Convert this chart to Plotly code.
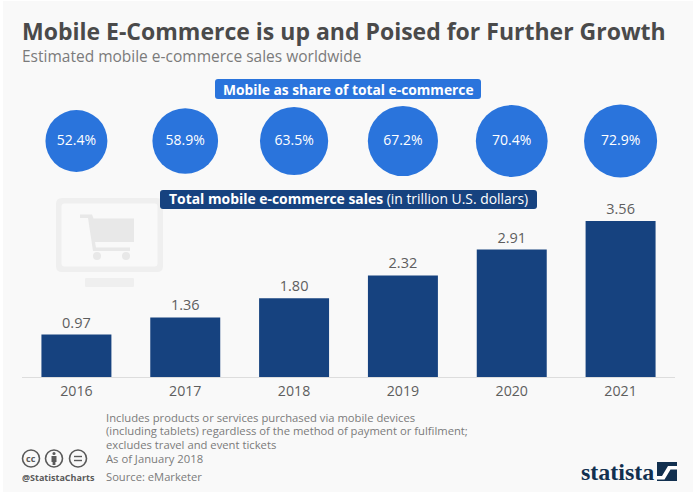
import plotly.graph_objects as go

W, H = 700, 502
years = ["2016", "2017", "2018", "2019", "2020", "2021"]
sales = [0.97, 1.36, 1.80, 2.32, 2.91, 3.56]
sales_labels = ["0.97", "1.36", "1.80", "2.32", "2.91", "3.56"]
share = [52.4, 58.9, 63.5, 67.2, 70.4, 72.9]
share_labels = ["52.4%", "58.9%", "63.5%", "67.2%", "70.4%", "72.9%"]
share_row = [0, 0, 0, 0, 0, 0]

title = "Mobile E-Commerce is up and Poised for Further Growth"
subtitle = "Estimated mobile e-commerce sales worldwide"
note_lines = [
    "Includes products or services purchased via mobile devices",
    "(including tablets) regardless of the method of payment or fulfilment;",
    "excludes travel and event tickets",
    "As of January 2018",
]
note_rows = [417.3, 430.8, 444.9, 458.3]
source = "Source: eMarketer"

FONT = "Open Sans"
DARK = "#16427f"
BLUE = "#2a74dc"
PANEL = "#f9f9f9"
GREY = "#5e5e5e"
NOTE = "#7b7b7b"
ICON = "#efefef"
CART = "#e8e8e8"
CC = "#5a5a5a"
LOGO = "#12304f"


def px(x):
    return x / W


def py(y):
    return 1 - y / H


def rect(x0, y0, x1, y1, color, layer="below", radius=0):
    if radius:
        r = radius
        path = (f"M{px(x0+r)},{py(y0)} L{px(x1-r)},{py(y0)} Q{px(x1)},{py(y0)} {px(x1)},{py(y0+r)} "
                f"L{px(x1)},{py(y1-r)} Q{px(x1)},{py(y1)} {px(x1-r)},{py(y1)} "
                f"L{px(x0+r)},{py(y1)} Q{px(x0)},{py(y1)} {px(x0)},{py(y1-r)} "
                f"L{px(x0)},{py(y0+r)} Q{px(x0)},{py(y0)} {px(x0+r)},{py(y0)} Z")
        return dict(type="path", path=path, xref="paper", yref="paper", fillcolor=color,
                    line=dict(width=0), layer=layer)
    return dict(type="rect", x0=px(x0), x1=px(x1), y0=py(y0), y1=py(y1), xref="paper", yref="paper",
                fillcolor=color, line=dict(width=0), layer=layer)


def poly(points, color, layer="below"):
    path = "M" + " L".join(f"{px(x)},{py(y)}" for x, y in points) + " Z"
    return dict(type="path", path=path, xref="paper", yref="paper", fillcolor=color,
                line=dict(width=0), layer=layer)


def circle(cx, cy, r, fill="rgba(0,0,0,0)", line=None, layer="above"):
    return dict(type="circle", x0=px(cx - r), x1=px(cx + r), y0=py(cy + r), y1=py(cy - r),
                xref="paper", yref="paper", fillcolor=fill, line=line or dict(width=0), layer=layer)


def text(x, y, s, size, color, anchor="left", bold=False, family=FONT):
    t = f"<b>{s}</b>" if bold else s
    return dict(x=px(x), y=py(y), xref="paper", yref="paper", text=t, showarrow=False,
                xanchor=anchor, yanchor="middle", font=dict(family=family, size=size, color=color))


ring = dict(color=CC, width=1.6)
shapes = [
    rect(3, 1, 693, 492, PANEL),
    # monitor watermark
    rect(56, 198, 163, 272, ICON, radius=6),
    rect(61.5, 203.5, 157.5, 266.5, PANEL, radius=3),
    rect(85, 278, 134, 287, ICON, radius=1),
    # cart
    poly([(80, 214.5), (92, 214.5), (93.5, 218.5), (134, 218.5), (134, 242), (95, 242), (96, 247.5),
          (130, 247.5), (130, 251), (93, 251), (88, 218), (80, 218)], CART),
    circle(97, 256, 4, fill=CART, layer="below"),
    circle(126, 256, 4, fill=CART, layer="below"),
    # header pills
    rect(215, 79, 481, 99, BLUE, radius=3),
    rect(160, 190, 537, 209, DARK, radius=3),
    # cc icons
    circle(31, 458.5, 8.5, line=ring),
    circle(54, 458.5, 8.5, line=ring),
    circle(78, 458.5, 8.5, line=ring),
    circle(54, 453.5, 1.6, fill=CC),
    rect(51.5, 456, 56.5, 462, CC, layer="above"),
    rect(52.6, 462, 55.4, 465, CC, layer="above"),
    rect(74, 455.8, 82, 457.2, CC, layer="above"),
    rect(74, 459.8, 82, 461.2, CC, layer="above"),
    # statista logo
    rect(657, 462, 677, 481, LOGO, layer="above"),
    poly([(657, 476), (662, 476), (668, 466), (677, 466), (677, 469.5), (670.5, 469.5), (664.5, 479.5), (657, 479.5)],
         "#ffffff", layer="above"),
]

annotations = [
    text(20, 31, title, 23, "#4a4a4a", bold=True),
    text(20, 56, subtitle, 15.5, NOTE),
    text(348, 89, "Mobile as share of total e-commerce", 13.8, "#ffffff", "center", bold=True),
    text(348.5, 198.5, "<b>Total mobile e-commerce sales</b> (in trillion U.S. dollars)", 13.9, "#ffffff", "center"),
    text(31, 458.5, "cc", 9, CC, "center", bold=True),
    text(20, 477, "@StatistaCharts", 9, CC, bold=True),
    text(104, 476.5, source, 11.2, NOTE),
    text(579, 472, "statista", 24, LOGO, family="Liberation Sans Narrow", bold=True),
]
for row, line in zip(note_rows, note_lines):
    annotations.append(text(104, row, line, 11.25, NOTE))

fig = go.Figure()
fig.add_trace(go.Bar(
    x=years, y=sales, width=0.643, marker=dict(color=DARK, line=dict(width=0)),
    text=sales_labels, textposition="outside", cliponaxis=False,
    textfont=dict(family=FONT, size=14.5, color=GREY), hoverinfo="skip",
))
fig.add_trace(go.Scatter(
    x=years, y=share_row, mode="markers+text", yaxis="y2", cliponaxis=False,
    marker=dict(size=share, sizemode="area", sizeref=0.0273, color=BLUE, opacity=1, line=dict(width=0)),
    text=share_labels, textposition="middle center",
    textfont=dict(family=FONT, size=14, color="#ffffff"), hoverinfo="skip",
))
fig.update_layout(
    width=W, height=H, autosize=False, showlegend=False,
    paper_bgcolor="#ffffff", plot_bgcolor="rgba(0,0,0,0)",
    margin=dict(l=0, r=0, t=0, b=0),
    shapes=shapes, annotations=annotations,
    font=dict(family=FONT, color=GREY),
    xaxis=dict(type="category", domain=[px(22), px(675)], range=[-0.5, 5.5], anchor="y",
               tickfont=dict(family=FONT, size=14.2, color=GREY),
               showline=True, linecolor="#dddddd", linewidth=1, ticks="", showgrid=False, ticklabelstandoff=1,
               fixedrange=True),
    yaxis=dict(domain=[py(377), py(200)], range=[0, 177 / 43.8], visible=False, showgrid=False, fixedrange=True),
    yaxis2=dict(domain=[py(176), py(106)], range=[-1, 1], visible=False, showgrid=False,
                anchor="x", fixedrange=True),
)
fig.write_html("out.html", post_script="document.body.style.margin='0';", config=dict(displayModeBar=False))
